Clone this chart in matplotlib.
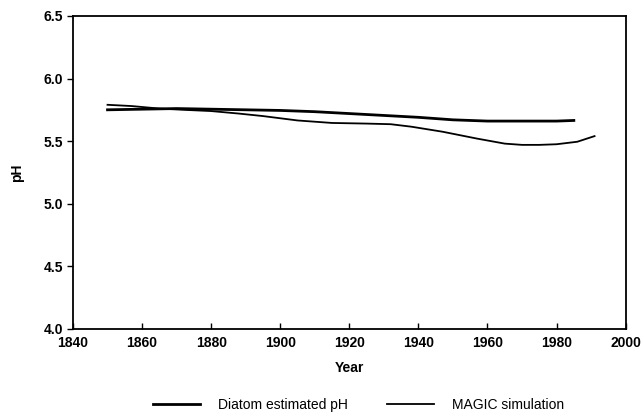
import matplotlib
matplotlib.use("Agg")
import matplotlib.pyplot as plt

# Diatom estimated pH (thicker line)
diatom_years = [1850, 1860, 1870, 1880, 1890, 1900, 1910, 1920, 1930, 1940, 1950, 1960, 1970, 1980, 1985]
diatom_ph = [5.75, 5.755, 5.76, 5.755, 5.75, 5.745, 5.735, 5.72, 5.705, 5.69, 5.67, 5.66, 5.66, 5.66, 5.665]

# MAGIC simulation (thinner line)
magic_years = [1850, 1857, 1865, 1872, 1880, 1888, 1895, 1905, 1915, 1925, 1932, 1938, 1947, 1957, 1965, 1970, 1975, 1980, 1986, 1991]
magic_ph = [5.79, 5.78, 5.76, 5.75, 5.74, 5.72, 5.70, 5.665, 5.645, 5.64, 5.635, 5.615, 5.575, 5.52, 5.48, 5.47, 5.47, 5.475, 5.495, 5.54]

xticks = [1840, 1860, 1880, 1900, 1920, 1940, 1960, 1980, 2000]
yticks = [4.0, 4.5, 5.0, 5.5, 6.0, 6.5]

plt.rcParams['font.family'] = ['Liberation Sans', 'DejaVu Sans']

fig = plt.figure(figsize=(6.43, 4.18), dpi=100)
ax = fig.add_axes([0.1135, 0.213, 0.8595, 0.749])

ax.plot(diatom_years, diatom_ph, color='black', lw=2.0, label='Diatom estimated pH')
ax.plot(magic_years, magic_ph, color='black', lw=1.3, label='MAGIC simulation')

ax.set_xlim(1840, 2000)
ax.set_ylim(4.0, 6.5)
ax.set_xticks(xticks)
ax.set_yticks(yticks)
ax.set_xticklabels([str(t) for t in xticks], fontweight='bold', fontsize=10)
ax.set_yticklabels([f"{t:.1f}" for t in yticks], fontweight='bold', fontsize=10)
ax.tick_params(axis='x', direction='in', length=4, width=1, pad=5)
ax.tick_params(axis='y', direction='out', length=4, width=1, pad=3)
for s in ax.spines.values():
    s.set_linewidth(1.3)

ax.set_xlabel('Year', fontweight='bold', fontsize=10, labelpad=8)
ax.set_ylabel('pH', fontweight='bold', fontsize=10, labelpad=14)

fig.legend(loc='center', bbox_to_anchor=(0.558, 0.032), ncol=2, frameon=False,
           fontsize=10, handlelength=3.4, handletextpad=1.3, columnspacing=2.8)

fig.savefig('out.png', dpi=100)
